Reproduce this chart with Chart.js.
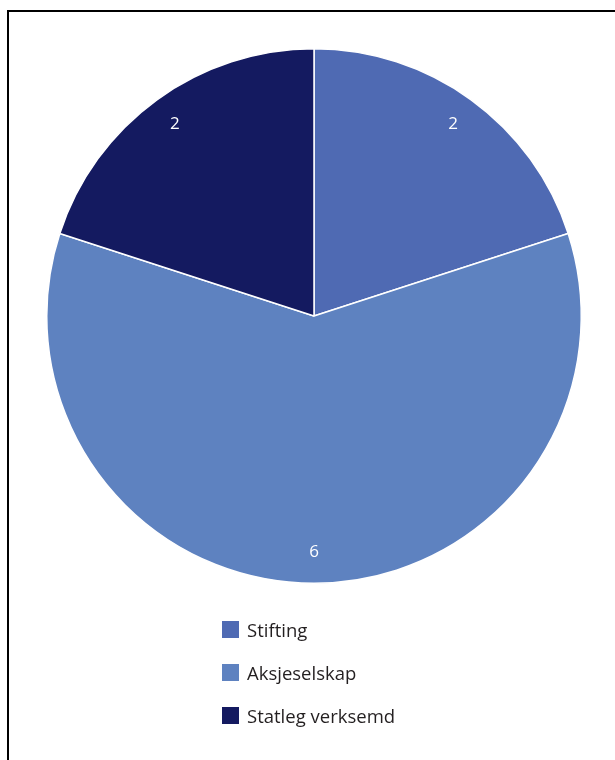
<!DOCTYPE html>
<html>
<head>
<meta charset="utf-8">
<script src="https://cdn.jsdelivr.net/npm/chart.js@4/dist/chart.umd.min.js"></script>
<style>
  html, body { margin: 0; padding: 0; background: #fff; }
  #wrap { position: relative; width: 615px; height: 760px; overflow: hidden; }
  #frame {
    position: absolute; left: 7px; top: 10px; width: 700px; height: 800px;
    border-left: 2px solid #000; border-top: 2px solid #000;
  }
  canvas { position: absolute; left: 0; top: 0; }
  #legend {
    position: absolute; left: 222px; top: 608px;
    font-family: "Open Sans", "Noto Sans", sans-serif; font-size: 18.5px; color: #231f20;
  }
  .item { display: flex; align-items: center; height: 43px; }
  .item .box { width: 17px; height: 17px; margin-right: 8px; }
</style>
</head>
<body>
<div id="wrap">
  <div id="frame"></div>
  <canvas id="pie" width="615" height="760"></canvas>
  <div id="legend"></div>
</div>
<script>
// chart data
const categories = ["Stifting", "Aksjeselskap", "Statleg verksemd"];
const counts = [2, 6, 2];
const sliceColors = ["#4f6ab3", "#5e82c0", "#141a60"];

// value labels drawn inside each slice
const sliceLabels = {
  id: 'sliceLabels',
  afterDatasetsDraw(chart) {
    const ctx = chart.ctx;
    const meta = chart.getDatasetMeta(0);
    ctx.save();
    ctx.fillStyle = '#fff';
    ctx.font = '17px "Open Sans", "Noto Sans", sans-serif';
    ctx.textAlign = 'center';
    ctx.textBaseline = 'middle';
    meta.data.forEach((arc, i) => {
      const mid = (arc.startAngle + arc.endAngle) / 2;
      const r = arc.outerRadius * 0.885;
      ctx.fillText(String(counts[i]), arc.x + Math.cos(mid) * r, arc.y + Math.sin(mid) * r);
    });
    ctx.restore();
  }
};

new Chart(document.getElementById('pie'), {
  type: 'pie',
  data: {
    labels: categories,
    datasets: [{
      data: counts,
      backgroundColor: sliceColors,
      borderColor: '#fff',
      borderWidth: 1.5
    }]
  },
  options: {
    responsive: false,
    animation: false,
    layout: { padding: { top: 48, left: 46, right: 33, bottom: 176 } },
    plugins: {
      legend: { display: false },
      tooltip: { enabled: false }
    }
  },
  plugins: [sliceLabels]
});

// legend list
const legendEl = document.getElementById('legend');
categories.forEach((name, i) => {
  const row = document.createElement('div');
  row.className = 'item';
  const box = document.createElement('span');
  box.className = 'box';
  box.style.background = sliceColors[i];
  const txt = document.createElement('span');
  txt.textContent = name;
  row.appendChild(box);
  row.appendChild(txt);
  legendEl.appendChild(row);
});
</script>
</body>
</html>
